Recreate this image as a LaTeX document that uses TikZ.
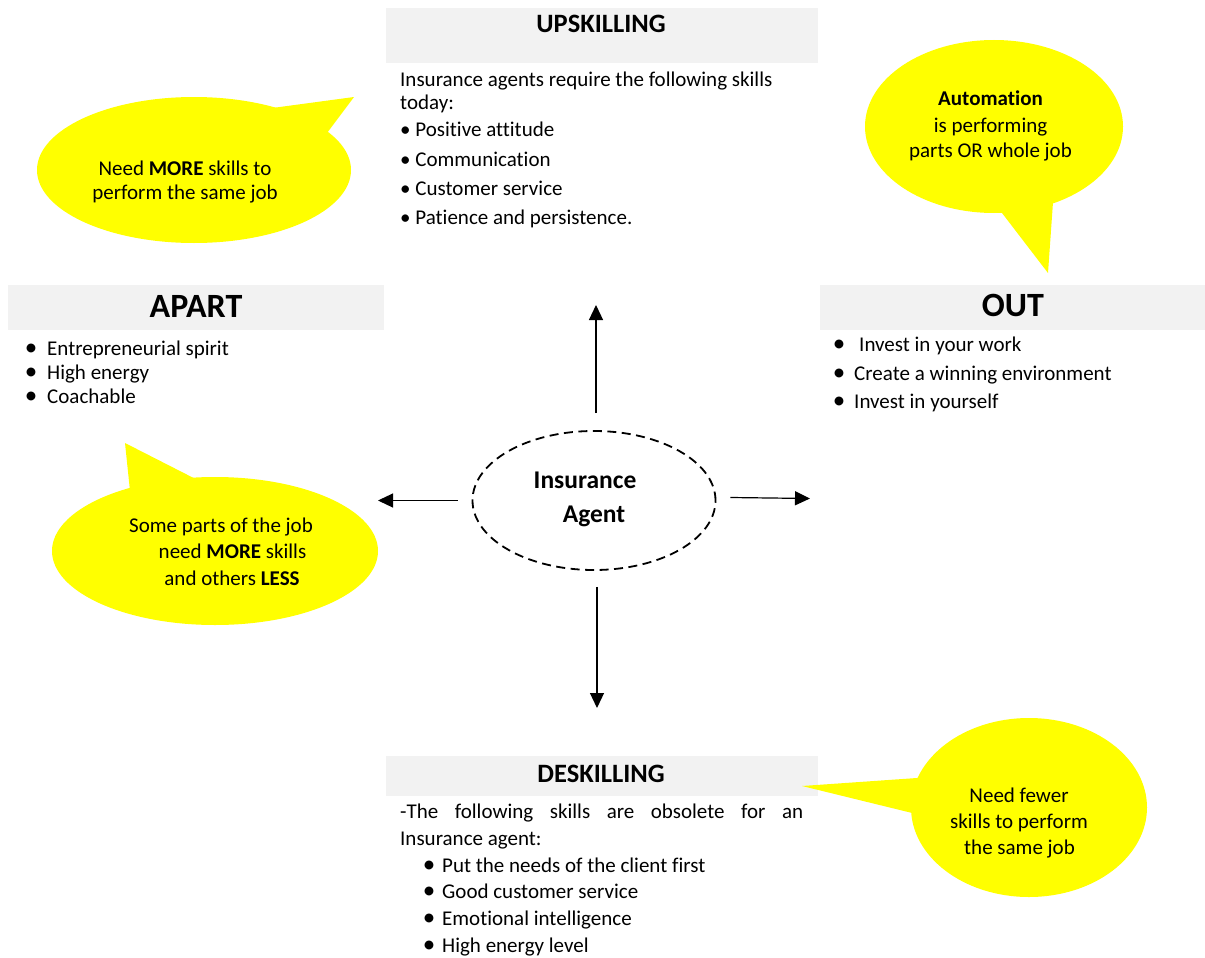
\documentclass[tikz,border=0pt]{standalone}
\usepackage{fontspec}
\setmainfont{Carlito}[Ligatures=NoCommon]
\usetikzlibrary{arrows.meta,shapes.geometric}
\definecolor{hdrgray}{HTML}{F2F2F2}
\definecolor{callyellow}{HTML}{FFFF00}

\begin{document}
\begin{tikzpicture}[x=1pt,y=-1pt,
  txt/.style={font=\fontsize{21}{25}\selectfont, inner sep=0pt, anchor=base west},
  ctxt/.style={font=\fontsize{21}{25}\selectfont, inner sep=0pt, anchor=base},
  bul/.style={font=\fontsize{25}{25}\selectfont, inner sep=0pt, anchor=base},
  hdrbox/.style={fill=hdrgray, draw=none, inner sep=0pt},
  hdrtitle/.style={font=\bfseries\fontsize{#1}{#1}\selectfont, inner sep=0pt, anchor=base},
  bubble/.style={ellipse, fill=callyellow, draw=none, inner sep=0pt},
  tail/.style={fill=callyellow, draw=none},
  arr/.style={line width=1.2pt, -{Triangle[length=15pt,width=14pt]}},
]
\useasboundingbox (0,0) rectangle (1205,958);

% ---- header bars ----
\node[hdrbox, minimum width=432pt, minimum height=55pt] (upBox) at (602,35.5) {};
\node[hdrbox, minimum width=376pt, minimum height=45pt] (apBox) at (196,307.5) {};
\node[hdrbox, minimum width=385pt, minimum height=45pt] (outBox) at (1012.5,307.5) {};
\node[hdrbox, minimum width=432pt, minimum height=40pt] (deBox) at (602,776) {};

\node[hdrtitle=26.5] (upTitle) at (601,33) {UPSKILLING};
\node[hdrtitle=34] (apTitle) at (196,317) {APART};
\node[hdrtitle=34] (outTitle) at (1013,316) {OUT};
\node[hdrtitle=26.5] (deTitle) at (601,782) {DESKILLING};

% ---- upskilling text ----
\node[txt] (up1) at (400,87) {Insurance agents require the following skills};
\node[txt] (up2) at (400,110) {today:};
\foreach \t/\y [count=\i] in {Positive attitude/136, Communication/166,
    Customer service/195, Patience and persistence./224}
  \node[txt] (upb\i) at (400,\y) {• \t};

% ---- apart list ----
\foreach \t/\y [count=\i] in {Entrepreneurial spirit/355, High energy/379, Coachable/403}{
  \node[bul] (apd\i) at (31,\y) {•};
  \node[txt] (apt\i) at (47,\y) {\t};
}

% ---- out list ----
\foreach \t/\y/\x [count=\i] in {Invest in your work/351/859,
    Create a winning environment/380/854, Invest in yourself/408/854}{
  \node[bul] (outd\i) at (839,\y) {•};
  \node[txt] (outt\i) at (\x,\y) {\t};
}

% ---- deskilling text ----
\node[txt] (de1) at (400,818) {\makebox[403pt][s]{-The following skills are obsolete for an}};
\node[txt] (de2) at (400,845) {Insurance agent:};
\foreach \t/\y [count=\i] in {Put the needs of the client first/872,
    Good customer service/898, Emotional intelligence/925, High energy level/952}{
  \node[bul] (ded\i) at (429,\y) {•};
  \node[txt] (det\i) at (442,\y) {\t};
}

% ---- central agent ----
\node[ellipse, draw, line width=1.8pt, dash pattern=on 9pt off 5.5pt,
      minimum width=243pt, minimum height=139pt] (agent) at (594,500.5) {};
\node[hdrtitle=25.5] (agent1) at (585,488) {Insurance};
\node[hdrtitle=25.5] (agent2) at (594,522) {Agent};

\coordinate (tipUp) at (596,305);
\coordinate (tipLeft) at (378,500.5);
\coordinate (tipRight) at (810,498.5);
\coordinate (tipDown) at (597,708);
\draw[arr] ([xshift=2pt,yshift=17pt]agent.north) -- (tipUp);
\draw[arr] ([xshift=-14pt]agent.west) -- (tipLeft);
\draw[arr] ([xshift=14pt,yshift=3pt]agent.east) -- (tipRight);
\draw[arr] ([xshift=3pt,yshift=-16pt]agent.south) -- (tipDown);

% ---- speech bubbles ----
\node[bubble, minimum width=314pt, minimum height=146pt] (bubMore) at (194,170) {};
\fill[tail] (354,97) -- (250,111) -- (bubMore.center) -- (306,161) -- cycle;
\node[ctxt] (bm1) at (185,175) {Need \textbf{MORE} skills to};
\node[ctxt] (bm2) at (185,199) {perform the same job};

\node[bubble, minimum width=258pt, minimum height=173pt] (bubAuto) at (994,126.5) {};
\fill[tail] (1048,273) -- (979,183) -- (bubAuto.center) -- (1055,174) -- cycle;
\node[ctxt] (ba1) at (990.5,105) {\textbf{Automation}};
\node[ctxt] (ba2) at (990.5,132) {is performing};
\node[ctxt] (ba3) at (990.5,157) {parts OR whole job};

\node[bubble, minimum width=326pt, minimum height=148pt] (bubMix) at (215,551) {};
\fill[tail] (125,443) -- (132,510) -- (bubMix.center) -- (225,494) -- cycle;
\node[ctxt] (bx1) at (221,532) {Some parts of the job};
\node[ctxt] (bx2) at (232.5,558) {need \textbf{MORE} skills};
\node[ctxt] (bx3) at (232,585) {and others \textbf{LESS}};

\node[bubble, minimum width=236pt, minimum height=179pt] (bubFew) at (1029,807.5) {};
\fill[tail] (802,786) -- (960,775) -- (bubFew.center) -- (957,824) -- cycle;
\node[ctxt] (bf1) at (1019,802) {Need fewer};
\node[ctxt] (bf2) at (1019,828) {skills to perform};
\node[ctxt] (bf3) at (1019.5,854) {the same job};
\end{tikzpicture}
\end{document}
